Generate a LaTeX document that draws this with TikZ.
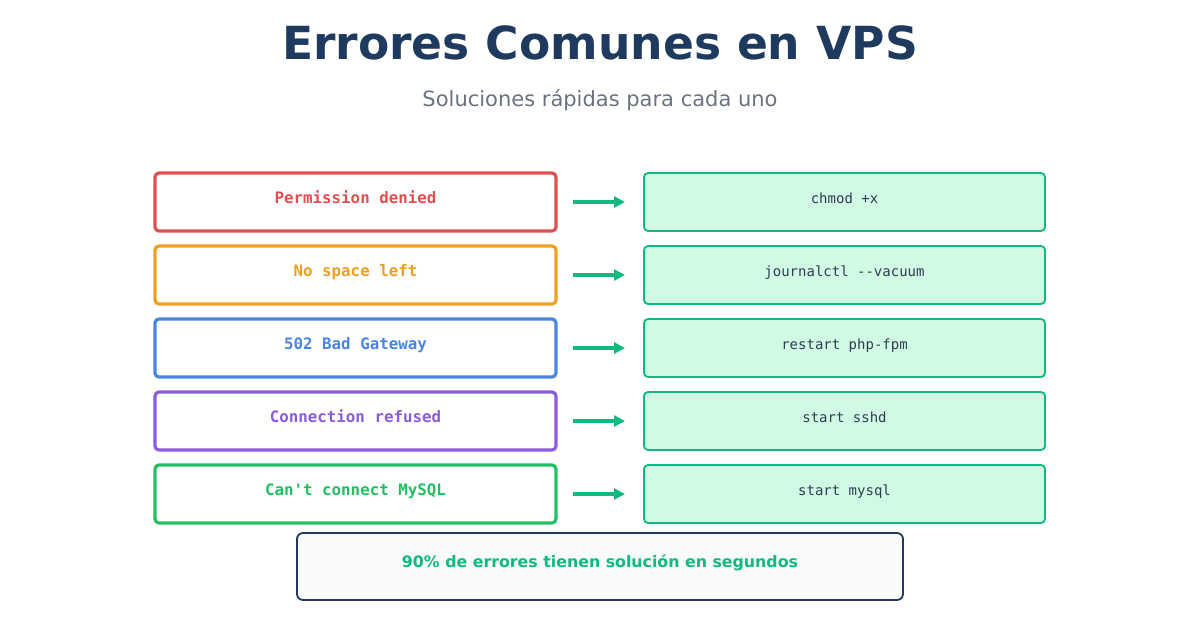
\documentclass[tikz,border=0pt]{standalone}
\usepackage{fontspec}
\setmainfont{DejaVu Sans}
\newfontfamily\monofont{DejaVu Sans Mono}
\usetikzlibrary{arrows.meta}
\definecolor{titlec}{HTML}{1E3A5F}
\definecolor{subc}{HTML}{6B7280}
\definecolor{redc}{HTML}{E05050}
\definecolor{orangec}{HTML}{F0A020}
\definecolor{bluec}{HTML}{4A86E0}
\definecolor{purplec}{HTML}{8B5CDB}
\definecolor{greenc}{HTML}{22C063}
\definecolor{solc}{HTML}{10B981}
\definecolor{solfill}{HTML}{D1FAE5}
\definecolor{soltext}{HTML}{2D3E50}
\definecolor{footfill}{HTML}{F8FAFC}
\tikzset{
  errbox/.style={draw=#1, line width=3.2pt, rounded corners=4pt, minimum width=401pt, minimum height=58pt, inner sep=0pt, fill=white},
  errtext/.style={text=#1, font=\monofont\bfseries\fontsize{15.8}{18}\selectfont, anchor=base, inner sep=0pt},
  solbox/.style={draw=solc, fill=solfill, line width=1.8pt, rounded corners=4pt, minimum width=401pt, minimum height=58pt, inner sep=0pt},
  soltxt/.style={text=soltext, font=\monofont\fontsize{14}{16}\selectfont, anchor=base, inner sep=0pt},
  arr/.style={draw=solc, line width=3.4pt, -{Triangle[length=11pt,width=11pt]}},
}
\begin{document}
\begin{tikzpicture}[x=1pt,y=-1pt]
\useasboundingbox (0,0) rectangle (1200,630);
\node[font=\bfseries\fontsize{45.6}{50}\selectfont, text=titlec, anchor=base, inner sep=0pt] (title) at (600,59) {Errores Comunes en VPS};
\node[font=\fontsize{21}{25}\selectfont, text=subc, anchor=base, inner sep=0pt] (sub) at (600,106.5) {Soluciones rápidas para cada uno};
\foreach \i/\c/\e/\s in {0/redc/Permission denied/chmod +x, 1/orangec/No space left/journalctl --vacuum, 2/bluec/502 Bad Gateway/restart php-fpm, 3/purplec/Connection refused/start sshd, 4/greenc/Can't connect MySQL/start mysql}{
  \pgfmathsetmacro{\yy}{202+73*\i}
  \node[errbox=\c] (e\i) at (355.5,\yy) {};
  \node[errtext=\c] (et\i) at (355.5,\yy+1.5) {\e};
  \node[solbox] (s\i) at (844.5,\yy) {};
  \node[soltxt] (st\i) at (844.5,\yy+1.5) {\s};
  \coordinate (a\i) at (573,\yy);
  \coordinate (b\i) at (625,\yy);
  \draw[arr] (a\i) -- (b\i);
}
\node[draw=titlec, fill=footfill, line width=1.8pt, rounded corners=6pt, minimum width=606pt, minimum height=67pt, inner sep=0pt] (foot) at (600,566.5) {};
\node[font=\bfseries\fontsize{15.8}{18}\selectfont, text=solc, anchor=base, inner sep=0pt] (foott) at (600,567.5) {90\% de errores tienen solución en segundos};
\end{tikzpicture}
\end{document}
